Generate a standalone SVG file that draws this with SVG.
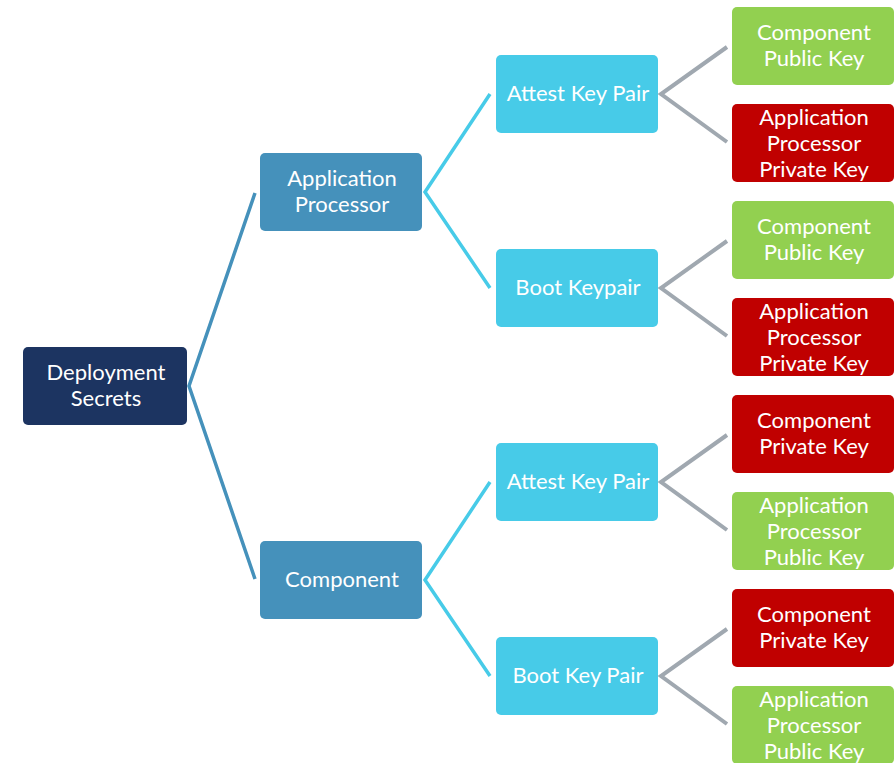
<svg xmlns="http://www.w3.org/2000/svg" width="895" height="763" viewBox="0 0 895 763">
  <style>
    .box { stroke: none; }
    .root { fill: #1c3461; }
    .l1 { fill: #4591bb; }
    .l2 { fill: #47cbe8; }
    .pub { fill: #92d050; }
    .priv { fill: #c00000; }
    text { font-family: "Lato", "Open Sans", "Liberation Sans", sans-serif; font-size: 22px; fill: #ffffff; text-anchor: middle; }
    .c0 { fill: none; stroke: #4591bb; stroke-width: 3.5; stroke-linejoin: miter; }
    .c1 { fill: none; stroke: #47cbe8; stroke-width: 3.5; stroke-linejoin: miter; }
    .c2 { fill: none; stroke: #a0a8b0; stroke-width: 4; stroke-linejoin: miter; }
  </style>

  <!-- connectors -->
  <g id="connectors">
    <polyline class="c0" points="255,193 189,386 255,579"/>
    <polyline class="c1" points="490,94 425,192 490,288"/>
    <polyline class="c1" points="490,482 425,580 490,676"/>
    <polyline class="c2" points="727,47 661,94 727,142"/>
    <polyline class="c2" points="727,241 661,288 727,336"/>
    <polyline class="c2" points="727,435 661,482 727,530"/>
    <polyline class="c2" points="727,629 661,676 727,724"/>
  </g>

  <!-- root -->
  <g id="deployment-secrets">
    <rect class="box root" x="23" y="347" width="164" height="78" rx="5"/>
    <text x="106" y="380">Deployment</text>
    <text x="106" y="406">Secrets</text>
  </g>

  <!-- level 1 -->
  <g id="application-processor">
    <rect class="box l1" x="260" y="153" width="162" height="78" rx="5"/>
    <text x="342" y="186">Application</text>
    <text x="342" y="212">Processor</text>
  </g>
  <g id="component">
    <rect class="box l1" x="260" y="541" width="162" height="78" rx="5"/>
    <text x="342" y="587">Component</text>
  </g>

  <!-- level 2 -->
  <g id="ap-attest-key-pair">
    <rect class="box l2" x="496" y="55" width="162" height="78" rx="5"/>
    <text x="578" y="101">Attest Key Pair</text>
  </g>
  <g id="ap-boot-keypair">
    <rect class="box l2" x="496" y="249" width="162" height="78" rx="5"/>
    <text x="578" y="295">Boot Keypair</text>
  </g>
  <g id="comp-attest-key-pair">
    <rect class="box l2" x="496" y="443" width="162" height="78" rx="5"/>
    <text x="578" y="489">Attest Key Pair</text>
  </g>
  <g id="comp-boot-key-pair">
    <rect class="box l2" x="496" y="637" width="162" height="78" rx="5"/>
    <text x="578" y="683">Boot Key Pair</text>
  </g>

  <!-- leaves -->
  <g id="leaf-1">
    <rect class="box pub" x="732" y="7" width="162" height="78" rx="5"/>
    <text x="814" y="40">Component</text>
    <text x="814" y="66">Public Key</text>
  </g>
  <g id="leaf-2">
    <rect class="box priv" x="732" y="104" width="162" height="78" rx="5"/>
    <text x="814" y="125">Application</text>
    <text x="814" y="151">Processor</text>
    <text x="814" y="177">Private Key</text>
  </g>
  <g id="leaf-3">
    <rect class="box pub" x="732" y="201" width="162" height="78" rx="5"/>
    <text x="814" y="234">Component</text>
    <text x="814" y="260">Public Key</text>
  </g>
  <g id="leaf-4">
    <rect class="box priv" x="732" y="298" width="162" height="78" rx="5"/>
    <text x="814" y="319">Application</text>
    <text x="814" y="345">Processor</text>
    <text x="814" y="371">Private Key</text>
  </g>
  <g id="leaf-5">
    <rect class="box priv" x="732" y="395" width="162" height="78" rx="5"/>
    <text x="814" y="428">Component</text>
    <text x="814" y="454">Private Key</text>
  </g>
  <g id="leaf-6">
    <rect class="box pub" x="732" y="492" width="162" height="78" rx="5"/>
    <text x="814" y="513">Application</text>
    <text x="814" y="539">Processor</text>
    <text x="814" y="565">Public Key</text>
  </g>
  <g id="leaf-7">
    <rect class="box priv" x="732" y="589" width="162" height="78" rx="5"/>
    <text x="814" y="622">Component</text>
    <text x="814" y="648">Private Key</text>
  </g>
  <g id="leaf-8">
    <rect class="box pub" x="732" y="686" width="162" height="78" rx="5"/>
    <text x="814" y="707">Application</text>
    <text x="814" y="733">Processor</text>
    <text x="814" y="759">Public Key</text>
  </g>
</svg>
